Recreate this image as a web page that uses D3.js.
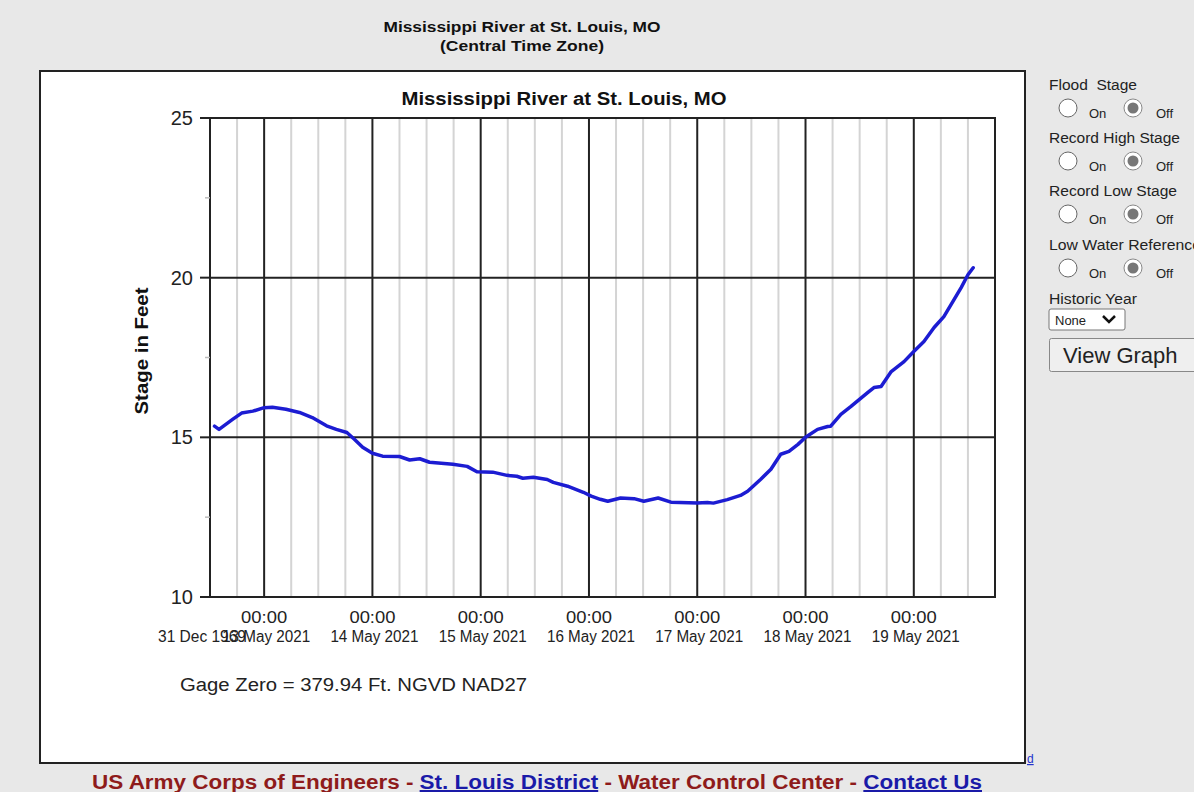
<!DOCTYPE html>
<html>
<head>
<meta charset="utf-8">
<script src="https://cdn.jsdelivr.net/npm/d3@7"></script>
<style>
  html, body { margin: 0; padding: 0; background: #e8e8e8; overflow: hidden; }
  svg { display: block; font-family: "Liberation Sans", Arial, sans-serif; }
</style>
</head>
<body>
<svg id="chart" width="1194" height="792"></svg>
<script>
// ---- data ----
const times = [
  "2021-05-12T13:00","2021-05-12T14:00","2021-05-12T17:00","2021-05-12T19:00","2021-05-12T21:30",
  "2021-05-13T00:00","2021-05-13T01:50","2021-05-13T04:50","2021-05-13T07:50","2021-05-13T10:40",
  "2021-05-13T13:50","2021-05-13T16:00","2021-05-13T18:20","2021-05-13T20:00","2021-05-13T21:50",
  "2021-05-14T00:00","2021-05-14T02:15","2021-05-14T06:00","2021-05-14T08:15","2021-05-14T10:30",
  "2021-05-14T12:40","2021-05-14T17:50","2021-05-14T21:00","2021-05-14T23:10","2021-05-15T02:40",
  "2021-05-15T05:50","2021-05-15T08:00","2021-05-15T09:20","2021-05-15T11:40","2021-05-15T14:45",
  "2021-05-15T16:05","2021-05-15T19:15","2021-05-15T22:45","2021-05-16T00:30","2021-05-16T02:30",
  "2021-05-16T04:10","2021-05-16T07:00","2021-05-16T10:00","2021-05-16T12:10","2021-05-16T15:20",
  "2021-05-16T18:10","2021-05-17T00:00","2021-05-17T02:15","2021-05-17T03:35","2021-05-17T06:40",
  "2021-05-17T09:35","2021-05-17T11:10","2021-05-17T14:05","2021-05-17T16:20","2021-05-17T18:30",
  "2021-05-17T20:20","2021-05-17T22:20","2021-05-18T00:00","2021-05-18T02:40","2021-05-18T04:55",
  "2021-05-18T05:35","2021-05-18T07:50","2021-05-18T10:05","2021-05-18T13:50","2021-05-18T15:10",
  "2021-05-18T16:45","2021-05-18T19:00","2021-05-18T21:50","2021-05-19T00:00","2021-05-19T02:15",
  "2021-05-19T04:30","2021-05-19T06:40","2021-05-19T08:55","2021-05-19T10:30","2021-05-19T12:00",
  "2021-05-19T13:10"
];
const stages = [
  15.35,15.25,15.56,15.76,15.82,
  15.93,15.94,15.88,15.78,15.62,
  15.36,15.25,15.15,14.94,14.69,
  14.50,14.41,14.40,14.29,14.33,
  14.22,14.16,14.09,13.92,13.91,
  13.81,13.78,13.72,13.75,13.68,
  13.59,13.47,13.28,13.16,13.06,
  13.00,13.10,13.08,13.00,13.10,
  12.97,12.94,12.96,12.94,13.05,
  13.18,13.31,13.69,14.00,14.47,
  14.56,14.78,15.00,15.25,15.34,
  15.35,15.72,15.97,16.41,16.56,
  16.59,17.06,17.37,17.69,18.00,
  18.44,18.78,19.31,19.69,20.09,
  20.31
];
const yTicks = [10, 15, 20, 25];
const yMinorTicks = [12.5, 17.5, 22.5];
const xDomain = ["2021-05-12T12:00", "2021-05-19T18:00"];
const timeLabel = "00:00";
const epochLabel = "31 Dec 1969";
const chartTitle = "Mississippi River at St. Louis, MO";
const pageSubtitle = "(Central Time Zone)";
const yAxisTitle = "Stage in Feet";
const gageNote = "Gage Zero = 379.94 Ft. NGVD NAD27";
const controlRows = ["Flood  Stage", "Record High Stage", "Record Low Stage", "Low Water Reference"];
const controlRowWidths = [88, 131, 128, 152];

// ---- setup ----
const parse = d3.utcParse("%Y-%m-%dT%H:%M");
const data = times.map((t, i) => ({ t: parse(t), v: stages[i] }));
const svg = d3.select("#chart");

const L = 210, R = 995, T = 118, B = 597;
const x = d3.scaleUtc().domain(xDomain.map(parse)).range([L, R]);
const y = d3.scaleLinear().domain([10, 25]).range([B, T]);

// page titles
svg.append("text").attr("x", 522).attr("y", 32).attr("text-anchor", "middle")
  .attr("font-size", 14).attr("font-weight", "bold").attr("fill", "#111")
  .attr("textLength", 277).attr("lengthAdjust", "spacingAndGlyphs").text(chartTitle);
svg.append("text").attr("x", 522).attr("y", 51).attr("text-anchor", "middle")
  .attr("font-size", 14).attr("font-weight", "bold").attr("fill", "#111")
  .attr("textLength", 164).attr("lengthAdjust", "spacingAndGlyphs").text(pageSubtitle);

// chart box
svg.append("rect").attr("x", 40).attr("y", 71).attr("width", 985).attr("height", 692)
  .attr("fill", "#fff").attr("stroke", "#222").attr("stroke-width", 2);

// inner title
svg.append("text").attr("x", 564).attr("y", 105).attr("text-anchor", "middle")
  .attr("font-size", 18).attr("font-weight", "bold").attr("fill", "#111")
  .attr("textLength", 325).attr("lengthAdjust", "spacingAndGlyphs").text(chartTitle);

// grid
const g = svg.append("g");
const allHours = d3.utcHour.every(6).range(x.domain()[0], x.domain()[1]);
const minorX = allHours.filter(d => d.getUTCHours() !== 0 && x(d) > L + 1);
const majorX = allHours.filter(d => d.getUTCHours() === 0);

g.selectAll(".vminor").data(minorX).join("line")
  .attr("x1", d => x(d)).attr("x2", d => x(d)).attr("y1", T).attr("y2", B)
  .attr("stroke", "#d4d4d4").attr("stroke-width", 2);
g.selectAll(".vmajor").data(majorX).join("line")
  .attr("x1", d => x(d)).attr("x2", d => x(d)).attr("y1", T).attr("y2", B)
  .attr("stroke", "#222").attr("stroke-width", 2);
g.selectAll(".hmajor").data(yTicks.filter(v => v > 10 && v < 25)).join("line")
  .attr("x1", L).attr("x2", R).attr("y1", d => y(d)).attr("y2", d => y(d))
  .attr("stroke", "#222").attr("stroke-width", 2);

// plot frame
g.append("rect").attr("x", L).attr("y", T).attr("width", R - L).attr("height", B - T)
  .attr("fill", "none").attr("stroke", "#222").attr("stroke-width", 2);

// y ticks & labels
g.selectAll(".ytick").data(yTicks).join("line")
  .attr("x1", L - 10).attr("x2", L).attr("y1", d => y(d)).attr("y2", d => y(d))
  .attr("stroke", "#222").attr("stroke-width", 2);
g.selectAll(".yminor").data(yMinorTicks).join("line")
  .attr("x1", L - 5).attr("x2", L).attr("y1", d => y(d)).attr("y2", d => y(d))
  .attr("stroke", "#bbb").attr("stroke-width", 1.5);
g.selectAll(".ylab").data(yTicks).join("text")
  .attr("x", 193).attr("y", d => y(d) + 7).attr("text-anchor", "end")
  .attr("font-size", 20).attr("fill", "#222").text(d => d);

// y axis title
svg.append("text").attr("transform", "translate(148,351) rotate(-90)")
  .attr("text-anchor", "middle").attr("font-size", 18).attr("font-weight", "bold")
  .attr("fill", "#111").attr("textLength", 127).attr("lengthAdjust", "spacingAndGlyphs")
  .text(yAxisTitle);

// x labels
const fmtDate = d3.utcFormat("%d %B %Y");
svg.append("text").attr("x", 158).attr("y", 642).attr("font-size", 16).attr("fill", "#222")
  .attr("textLength", 88).attr("lengthAdjust", "spacingAndGlyphs").text(epochLabel);
const xl = svg.selectAll(".xlab").data(majorX).join("g");
xl.append("text").attr("x", d => x(d)).attr("y", 623).attr("text-anchor", "middle")
  .attr("font-size", 16).attr("fill", "#222")
  .attr("textLength", 46).attr("lengthAdjust", "spacingAndGlyphs").text(timeLabel);
xl.append("text").attr("x", d => x(d) + 2).attr("y", 642).attr("text-anchor", "middle")
  .attr("font-size", 16).attr("fill", "#222")
  .attr("textLength", 88).attr("lengthAdjust", "spacingAndGlyphs").text(d => fmtDate(d));

// line
const line = d3.line().x(d => x(d.t)).y(d => y(d.v)).curve(d3.curveLinear);
svg.append("path").datum(data).attr("d", line).attr("fill", "none")
  .attr("stroke", "#1c1cd2").attr("stroke-width", 3.5)
  .attr("stroke-linejoin", "round").attr("stroke-linecap", "round");

// gage note
svg.append("text").attr("x", 180).attr("y", 691).attr("font-size", 18).attr("fill", "#222")
  .attr("textLength", 347).attr("lengthAdjust", "spacingAndGlyphs").text(gageNote);

// small link
svg.append("text").attr("x", 1027).attr("y", 763).attr("font-size", 12).attr("fill", "#2233cc")
  .attr("text-decoration", "underline").text("d");

// footer
const foot = svg.append("text").attr("x", 92).attr("y", 789).attr("font-size", 20)
  .attr("font-weight", "bold").attr("textLength", 890).attr("lengthAdjust", "spacingAndGlyphs");
foot.append("tspan").attr("fill", "#8e1b1b").text("US Army Corps of Engineers - ");
foot.append("tspan").attr("fill", "#1a1aa8").attr("text-decoration", "underline").text("St. Louis District");
foot.append("tspan").attr("fill", "#8e1b1b").text(" - Water Control Center - ");
foot.append("tspan").attr("fill", "#1a1aa8").attr("text-decoration", "underline").text("Contact Us");

// right controls
const panel = svg.append("g");
const rowTop = [90, 143, 196, 250];
controlRows.forEach((lab, i) => {
  const by = rowTop[i];
  panel.append("text").attr("x", 1049).attr("y", by).attr("font-size", 14).attr("fill", "#222")
    .attr("textLength", controlRowWidths[i]).attr("lengthAdjust", "spacingAndGlyphs")
    .style("white-space", "pre").text(lab);
  const cy = by + 18;
  panel.append("circle").attr("cx", 1068).attr("cy", cy).attr("r", 9)
    .attr("fill", "#fff").attr("stroke", "#666").attr("stroke-width", 1);
  panel.append("text").attr("x", 1089).attr("y", cy + 10).attr("font-size", 13).attr("fill", "#222").text("On");
  panel.append("circle").attr("cx", 1133).attr("cy", cy).attr("r", 9)
    .attr("fill", "#fff").attr("stroke", "#888").attr("stroke-width", 1);
  panel.append("circle").attr("cx", 1133).attr("cy", cy).attr("r", 5.5).attr("fill", "#777");
  panel.append("text").attr("x", 1156).attr("y", cy + 10).attr("font-size", 13).attr("fill", "#222").text("Off");
});
panel.append("text").attr("x", 1049).attr("y", 304).attr("font-size", 14).attr("fill", "#222")
  .attr("textLength", 88).attr("lengthAdjust", "spacingAndGlyphs").text("Historic Year");
panel.append("rect").attr("x", 1049).attr("y", 309).attr("width", 76).attr("height", 21)
  .attr("fill", "#fff").attr("stroke", "#777").attr("rx", 2);
panel.append("text").attr("x", 1055).attr("y", 325).attr("font-size", 13).attr("fill", "#222").text("None");
panel.append("path").attr("d", "M1103,316 L1109,322 L1115,316").attr("fill", "none")
  .attr("stroke", "#111").attr("stroke-width", 2.5);
panel.append("rect").attr("x", 1049.5).attr("y", 338.5).attr("width", 150).attr("height", 33)
  .attr("fill", "#efefef").attr("stroke", "#888").attr("rx", 2);
panel.append("text").attr("x", 1063).attr("y", 363).attr("font-size", 22).attr("fill", "#222").text("View Graph");
</script>
</body>
</html>
